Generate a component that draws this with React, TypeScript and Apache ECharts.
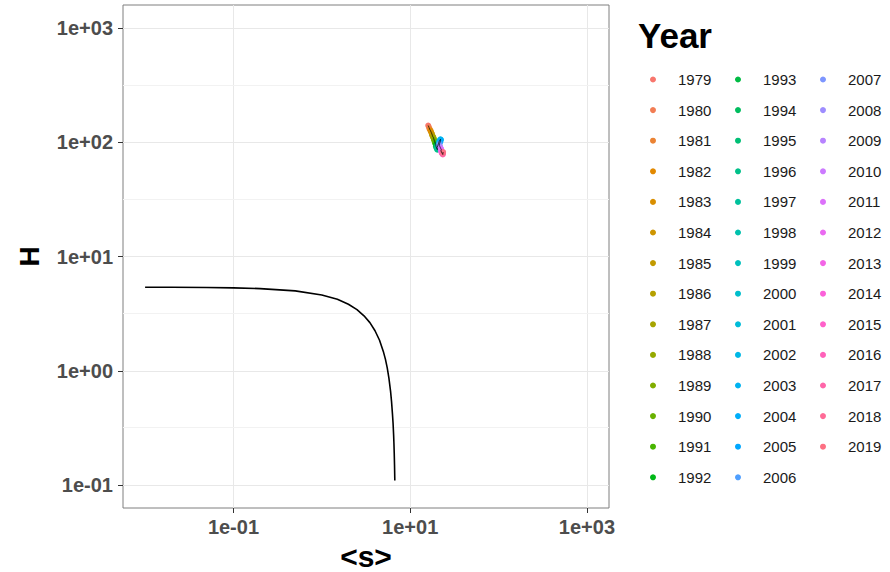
import React, { useEffect, useRef } from 'react';
import * as echarts from 'echarts';

// Years shown in the legend
const years: number[] = [
  1979, 1980, 1981, 1982, 1983, 1984, 1985, 1986, 1987, 1988, 1989, 1990, 1991, 1992,
  1993, 1994, 1995, 1996, 1997, 1998, 1999, 2000, 2001, 2002, 2003, 2004, 2005, 2006,
  2007, 2008, 2009, 2010, 2011, 2012, 2013, 2014, 2015, 2016, 2017, 2018, 2019,
];

// <s> per year
const sValues: number[] = [
  16.0, 16.3, 16.6, 17.0, 17.3, 17.6, 17.8, 18.0, 18.3, 18.5, 18.7, 19.0, 19.2, 19.5,
  19.6, 19.8, 20.0, 20.3, 20.2, 20.6, 21.0, 21.3, 21.7, 22.0, 22.3, 22.0, 21.8, 21.5,
  21.3, 21.6, 21.9, 22.2, 22.5, 22.3, 22.6, 22.8, 23.0, 23.2, 23.4, 23.5, 23.6,
];

// H per year
const hValues: number[] = [
  140, 135, 130, 126, 122, 118, 115, 112, 110, 107, 104, 101, 98, 95,
  92, 90, 88, 86, 90, 94, 98, 102, 104, 106, 105, 103, 100, 97,
  94, 92, 90, 88, 86, 84, 82, 81, 80, 79, 78, 80, 82,
];

// Theoretical curve
const curveS: number[] = [
  0.01, 0.02, 0.05, 0.1, 0.2, 0.5, 1, 1.5, 2, 2.5, 3, 3.5, 4, 4.5, 5, 5.25, 5.5,
  5.75, 6, 6.15, 6.3, 6.4, 6.5, 6.55, 6.6, 6.65, 6.7,
];
const curveH: number[] = [
  5.39, 5.38, 5.36, 5.32, 5.24, 5.0, 4.61, 4.22, 3.82, 3.43, 3.03, 2.64, 2.24, 1.85, 1.45,
  1.26, 1.06, 0.86, 0.66, 0.54, 0.42, 0.35, 0.27, 0.23, 0.19, 0.15, 0.11,
];

// Axis breaks
const xTickValues: number[] = [0.1, 10, 1000];
const yTickValues: number[] = [0.1, 1, 10, 100, 1000];
const yMinorGrid: number[] = [0.3162, 3.162, 31.62, 316.2];

function hcl(h: number, c: number, l: number): string {
  const hr = (h * Math.PI) / 180;
  const u = c * Math.cos(hr);
  const v = c * Math.sin(hr);
  const Xn = 95.047, Yn = 100, Zn = 108.883;
  const den = Xn + 15 * Yn + 3 * Zn;
  const un = (4 * Xn) / den, vn = (9 * Yn) / den;
  const Y = Yn * Math.pow((l + 16) / 116, 3);
  const up = u / (13 * l) + un;
  const vp = v / (13 * l) + vn;
  const X = (Y * 9 * up) / (4 * vp);
  const Z = (Y * (12 - 3 * up - 20 * vp)) / (4 * vp);
  const x = X / 100, y = Y / 100, z = Z / 100;
  const lin = [
    3.2404542 * x - 1.5371385 * y - 0.4985314 * z,
    -0.969266 * x + 1.8760108 * y + 0.041556 * z,
    0.0556434 * x - 0.2040259 * y + 1.0572252 * z,
  ];
  const hex = lin
    .map((c0) => {
      let g = c0 <= 0.0031308 ? 12.92 * c0 : 1.055 * Math.pow(c0, 1 / 2.4) - 0.055;
      g = Math.min(1, Math.max(0, g));
      return Math.round(g * 255).toString(16).padStart(2, '0');
    })
    .join('');
  return '#' + hex;
}

const FONT = '"Liberation Sans", Arial, Helvetica, sans-serif';

function fmtLog(v: number): string {
  const lg = Math.log10(v);
  const e = Math.round(lg);
  if (Math.abs(lg - e) > 1e-6) return '';
  return '1e' + (e < 0 ? '-' : '+') + String(Math.abs(e)).padStart(2, '0');
}

export default function App() {
  const ref = useRef<HTMLDivElement>(null);
  useEffect(() => {
    if (!ref.current) return;
    const chart = echarts.init(ref.current, undefined, { renderer: 'svg' });
    const n = years.length;
    const colors = years.map((_, i) => hcl(15 + (i * 360) / n, 100, 65));

    const scatterSeries = years.map((yr, i) => ({
      name: String(yr),
      type: 'scatter',
      data: [[sValues[i], hValues[i]]],
      symbol: 'circle',
      symbolSize: 6,
      itemStyle: { color: colors[i], opacity: 1 },
      z: 4,
    }));

    const legends = [0, 1, 2].map((c) => ({
      data: years.slice(c * 14, c * 14 + 14).map(String),
      orient: 'vertical',
      left: 650 + c * 85,
      top: 72,
      padding: 0,
      itemWidth: 6,
      itemHeight: 14,
      itemGap: 15.6,
      icon: 'circle',
      selectedMode: false,
      textStyle: {
        fontFamily: FONT,
        fontSize: 15,
        color: '#1a1a1a',
        lineHeight: 14,
        padding: [0, 0, 0, 17],
      },
    }));

    const axisLabelBase = {
      fontFamily: FONT,
      fontSize: 20,
      fontWeight: 'bold',
      color: '#4d4d4d',
      formatter: (v: number) => fmtLog(v),
    };

    const option: any = {
      animation: false,
      backgroundColor: '#ffffff',
      title: {
        text: 'Year',
        left: 638,
        top: 18,
        padding: 0,
        textStyle: { fontFamily: FONT, fontSize: 35, fontWeight: 'bold', color: '#000000' },
      },
      legend: legends,
      grid: {
        left: 123,
        right: 281,
        top: 5,
        bottom: 64,
        show: true,
        borderColor: '#7f7f7f',
        borderWidth: 1,
        backgroundColor: 'transparent',
        containLabel: false,
        outerBoundsMode: 'none',
      },
      xAxis: {
        type: 'log',
        logBase: 10,
        min: Math.pow(10, -2.25),
        max: Math.pow(10, 3.25),
        name: '<s>',
        nameLocation: 'middle',
        nameGap: 32,
        nameTextStyle: { fontFamily: FONT, fontSize: 30, lineHeight: 28, fontWeight: 'bold', color: '#000000' },
        axisLine: { show: false },
        axisTick: { show: true, length: 5, customValues: xTickValues, lineStyle: { color: '#333333' } },
        axisLabel: { ...axisLabelBase, margin: 9, customValues: xTickValues },
        splitLine: { show: true, lineStyle: { color: '#e8e8e8', width: 1 } },
        minorTick: { show: false },
      },
      yAxis: {
        type: 'log',
        logBase: 10,
        min: Math.pow(10, -1.2),
        max: Math.pow(10, 3.2),
        name: 'H',
        nameLocation: 'middle',
        nameGap: 80,
        nameRotate: 90,
        nameTextStyle: { fontFamily: FONT, fontSize: 28, fontWeight: 'bold', color: '#000000' },
        axisLine: { show: false },
        axisTick: { show: true, length: 5, customValues: yTickValues, lineStyle: { color: '#333333' } },
        axisLabel: { ...axisLabelBase, margin: 10, customValues: yTickValues },
        splitLine: { show: true, lineStyle: { color: '#e8e8e8', width: 1 } },
      },
      series: [
        {
          name: 'minor-grid',
          type: 'line',
          data: [],
          z: 1,
          silent: true,
          markLine: {
            z: 1,
            silent: true,
            symbol: 'none',
            label: { show: false },
            emphasis: { disabled: true },
            lineStyle: { color: '#f2f2f2', width: 1, type: 'solid' },
            data: yMinorGrid.map((v) => ({ yAxis: v })),
          },
        },
        {
          name: 'curve',
          type: 'line',
          data: curveS.map((s, i) => [s, curveH[i]]),
          showSymbol: false,
          symbol: 'none',
          lineStyle: { color: '#000000', width: 1.6 },
          z: 3,
          silent: true,
        },
        ...scatterSeries,
        {
          name: 'path',
          type: 'line',
          data: sValues.map((s, i) => [s, hValues[i]]),
          showSymbol: false,
          symbol: 'none',
          lineStyle: { color: '#000000', width: 0.7 },
          z: 5,
          silent: true,
        },
      ],
    };
    chart.setOption(option);
    return () => chart.dispose();
  }, []);
  return (
    <div
      ref={ref}
      style={{ position: 'absolute', left: 0, top: 0, width: 890, height: 572, background: '#fff' }}
    />
  );
}
